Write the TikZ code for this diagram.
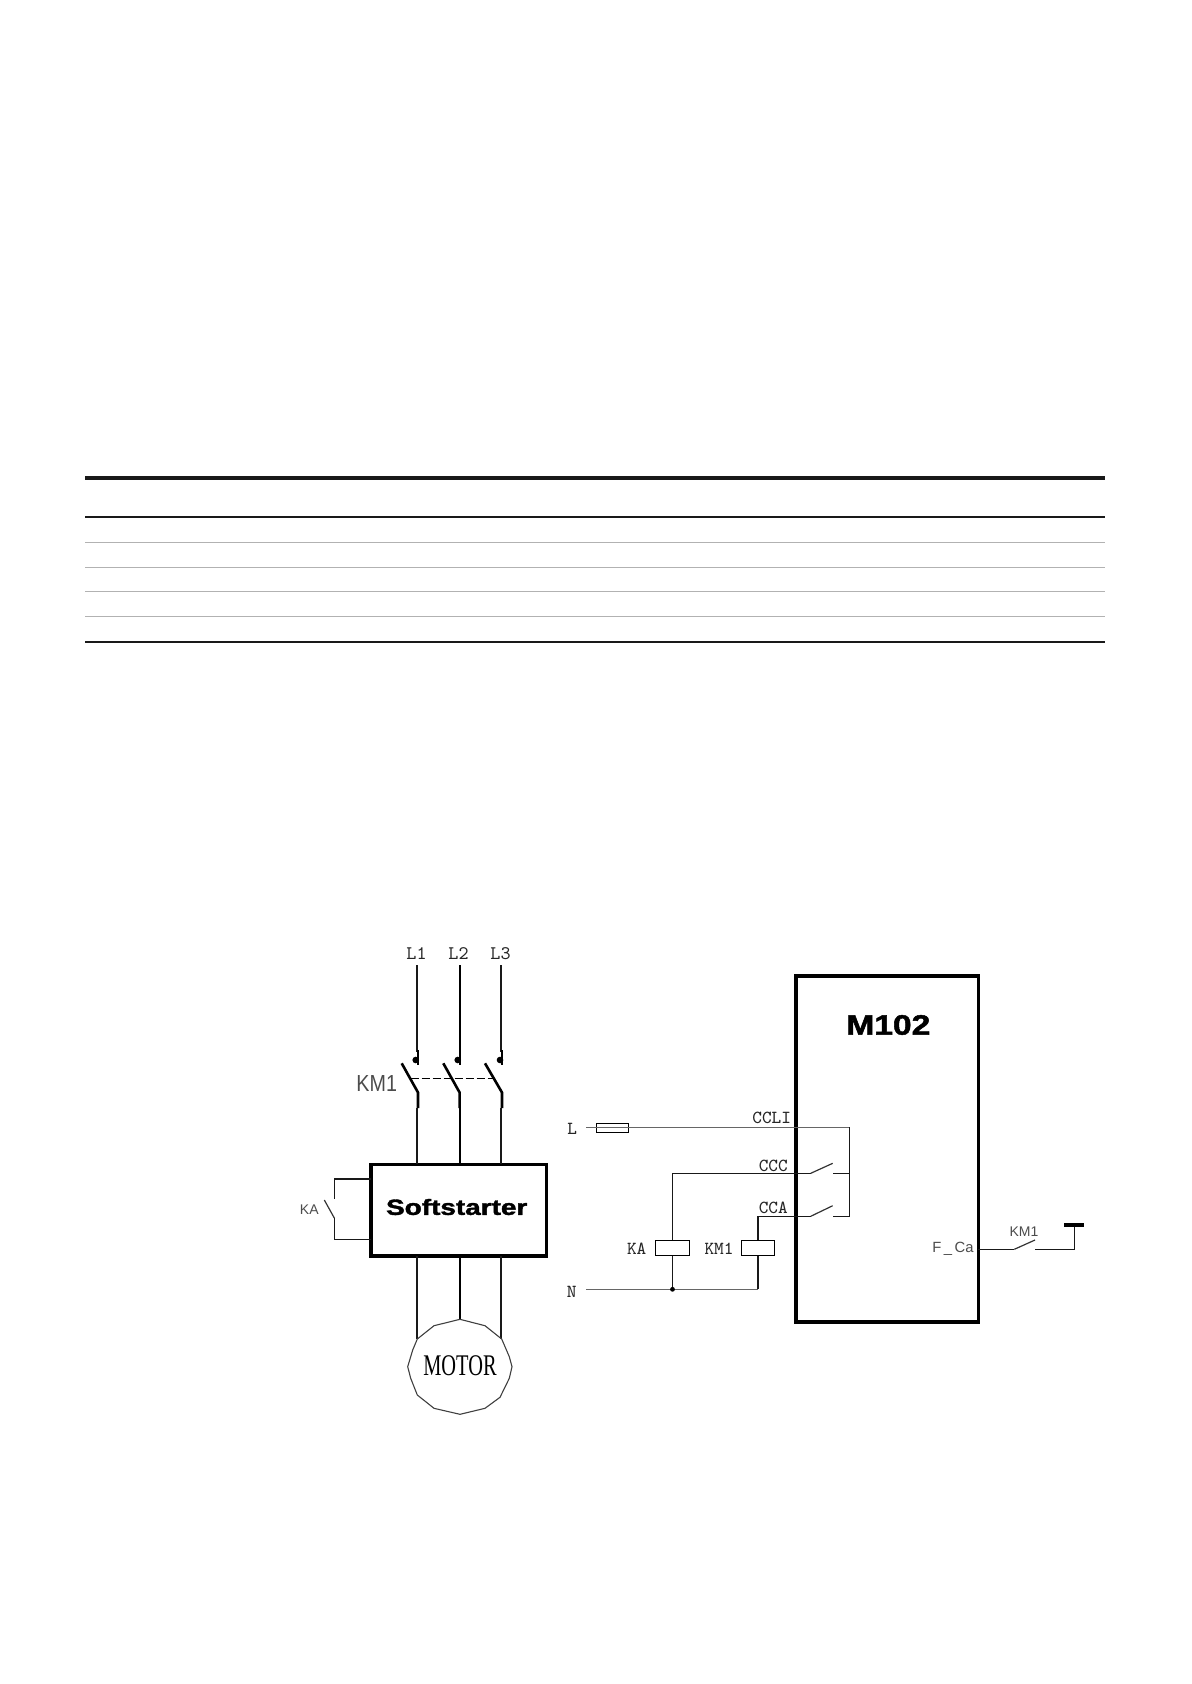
\documentclass[tikz,border=0pt]{standalone}
\usepackage{fontspec}
\usepackage{graphicx}
\setmainfont{Liberation Serif}
\setmonofont{Latin Modern Mono}
\newfontfamily\thinsans{Liberation Sans}
\newfontfamily\heavy[FakeBold=1.6]{Liberation Sans Bold}
\tikzset{
  x=0.5pt,y=-0.5pt,
  px/.style={line width=#1*0.5pt},
  tabthick/.style={px=4,color=black!90},
  tabmid/.style={px=2,color=black!90},
  tabthin/.style={px=1.4,color=black!30},
  wire/.style={px=1.8,color=black!90},
  ctlwire/.style={px=1.4,color=black!90},
  graywire/.style={px=1.2,color=black!60},
  heavywire/.style={px=2.6,color=black},
  contact/.style={px=3,color=black},
  blade/.style={px=1.2,color=black!80},
  mainbox/.style={draw,px=3.6,inner sep=0pt,outer sep=0pt},
  coil/.style={draw,px=1.5,inner sep=0pt,outer sep=0pt},
  lab/.style={inner sep=0pt,outer sep=0pt,text=black!85,font=\ttfamily\fontsize{9.2}{10}\selectfont},
  slab/.style={inner sep=0pt,outer sep=0pt,text=black!70,font=\thinsans\fontsize{7}{8}\selectfont},
}
\begin{document}
\begin{tikzpicture}
\useasboundingbox (0,0) rectangle (1191,1684);
\fill[white] (0,0) rectangle (1191,1684);
% table rules
\foreach \n/\y/\s in {a/478/tabthick,b/517/tabmid,c/542.5/tabthin,d/567.3/tabthin,e/591.3/tabthin,f/616.3/tabthin,g/642/tabmid}{
  \coordinate (r\n l) at (85,\y);
  \coordinate (r\n r) at (1105,\y);
  \draw[\s] (r\n l) -- (r\n r);
}
% softstarter
\node[mainbox,minimum width=87.8pt,minimum height=45.7pt] (ss) at (458.8,1210) {};
\node[inner sep=0pt] (sslab) at (456.7,1207) {\scalebox{1.27}[1]{\heavy\fontsize{11}{12}\selectfont Softstarter}};
% phases
\node[lab,font=\ttfamily\fontsize{9.6}{10}\selectfont] (l1) at (416.5,954) {L1};
\node[lab,font=\ttfamily\fontsize{9.6}{10}\selectfont] (l2) at (458.5,954) {L2};
\node[lab,font=\ttfamily\fontsize{9.6}{10}\selectfont] (l3) at (500.5,954) {L3};
\foreach \n/\x/\w/\cx/\bx/\dx in {1/416.7/wire/418/401.7/415.7, 2/460/heavywire/459.6/443.3/457.7, 3/500.7/wire/502/485/500}{
  \coordinate (t\n) at (\x,965);
  \coordinate (ca\n) at (\cx,1050);
  \coordinate (cb\n) at (\cx,1065);
  \coordinate (dot\n) at (\dx,1060);
  \coordinate (bt\n) at (\bx,1063.3);
  \coordinate (bb\n) at (\cx,1092.5);
  \coordinate (lc\n) at (\cx,1108);
  \coordinate (lw\n) at (\x,1108);
  \draw[\w] (t\n) -- (\x,1052);
  \draw[contact,px=2] (ca\n) -- (cb\n);
  \fill (dot\n) circle[radius=3.3];
  \draw[contact,px=2.6] (bt\n) -- (bb\n) -- (lc\n);
  \draw[\w] (lw\n) -- (lw\n |- ss.north);
}
\coordinate (d1) at (410.7,1078.3);
\coordinate (d3) at (493,1078.3);
\draw[px=1.5,dash pattern=on 4pt off 1.5pt] (d1) -- (d3);
\node[slab] (km) at (376.7,1084) {\scalebox{0.85}[1]{\fontsize{11.6}{12}\selectfont KM1}};
% KA contact on softstarter
\coordinate (ka1) at (334.3,1179);
\coordinate (ka2) at (334.3,1199);
\coordinate (ka3) at (324.3,1200);
\coordinate (ka4) at (334.3,1218);
\coordinate (ka5) at (334.3,1239.3);
\draw[ctlwire] (ka1 -| ss.west) -- (ka1) -- (ka2);
\draw[blade] (ka3) -- (ka4);
\draw[ctlwire] (ka4) -- (ka5) -- (ka5 -| ss.west);
\node[slab] (kal) at (309.3,1210) {KA};
% motor
\coordinate (m1) at (416.7,1339);
\coordinate (m2) at (460,1319.3);
\coordinate (m3) at (500.7,1339);
\draw[wire] (m1 |- ss.south) -- (m1);
\draw[heavywire] (m2 |- ss.south) -- (m2);
\draw[wire] (m3 |- ss.south) -- (m3);
\draw[px=1.1,color=black!75] (m2) -- (485,1325.7) -- (501.7,1339) -- (509.3,1356.7) -- (512,1366.7) -- (509.3,1378.3) -- (500,1397.3) -- (485,1408.3) -- (460,1414.3) -- (434,1408.3) -- (417.3,1395) -- (410.7,1378.3) -- (407.7,1366.7) -- (412.7,1350) -- (417.3,1339) -- (434,1325.7) -- cycle;
\node[inner sep=0pt] (mot) at (460,1366) {\scalebox{0.68}[1]{\fontsize{15}{16}\selectfont MOTOR}};
% M102
\node[mainbox,minimum width=91.2pt,minimum height=173pt] (m102) at (887.2,1149) {};
\node[inner sep=0pt] (mlab) at (888.3,1025) {\scalebox{1.2}[1]{\heavy\fontsize{14}{15}\selectfont M102}};
% control circuit
\node[lab] (L) at (572.3,1129) {L};
\node[lab] (N) at (571.7,1291.7) {N};
\node[lab] (ccli) at (771.7,1117.7) {CCLI};
\node[lab] (ccc) at (773.3,1166) {CCC};
\node[lab] (cca) at (773.3,1207.7) {CCA};
\node[lab] (kac) at (636.7,1248.7) {KA};
\node[lab] (kmc) at (719,1248.7) {KM1};
\node[coil,minimum width=16.2pt,minimum height=4.7pt] (fuse) at (612.5,1128) {};
\node[coil,minimum width=17pt,minimum height=7.7pt] (coila) at (672.5,1248) {};
\node[coil,minimum width=16.7pt,minimum height=7.7pt] (coilb) at (758,1248) {};
\coordinate (lstart) at (586,1127.3);
\coordinate (lend) at (849.3,1127.3);
\coordinate (rb) at (849.3,1216.3);
\coordinate (rm) at (849.3,1173.3);
\draw[graywire] (lstart) -- (lend);
\draw[ctlwire] (lend) -- (rb) -- (833.3,1216.3);
\draw[ctlwire] (rm) -- (833.3,1173.3);
\coordinate (cc1) at (810.7,1173.3);
\coordinate (cc2) at (832.7,1163.3);
\coordinate (ca1) at (810.7,1216.3);
\coordinate (ca2) at (832.7,1205.7);
\draw[ctlwire] (cc1) -- (cc1 -| coila) -- (coila.north);
\draw[ctlwire] (ca1) -- (ca1 -| coilb) -- (coilb.north);
\draw[blade] (cc1) -- (cc2);
\draw[blade] (ca1) -- (ca2);
\coordinate (nstart) at (586,1289.3);
\coordinate (nj) at (672.5,1289.3);
\coordinate (nc) at (758,1289.3);
\draw[graywire] (nstart) -- (nc);
\draw[ctlwire] (coila.south) -- (nj);
\draw[ctlwire] (nc) -- (coilb.south);
\fill (nj) circle[radius=2.4];
% F_Ca
\node[slab,font=\thinsans\fontsize{7.4}{8}\selectfont,text=black!70] (fca) at (953,1249) {F\,\_\,Ca};
\node[slab] (km2) at (1024,1231.7) {KM1};
\coordinate (f1) at (1014.3,1249.3);
\coordinate (f2) at (1035,1240);
\coordinate (f3) at (1035,1249.3);
\coordinate (f4) at (1074.7,1249.3);
\coordinate (g1) at (1074.7,1225);
\coordinate (ga) at (1064,1225);
\coordinate (gb) at (1084,1225);
\draw[ctlwire] (f1 -| m102.east) -- (f1);
\draw[blade] (f1) -- (f2);
\draw[ctlwire] (f3) -- (f4) -- (g1);
\draw[px=3.6] (ga) -- (gb);
\end{tikzpicture}
\end{document}
